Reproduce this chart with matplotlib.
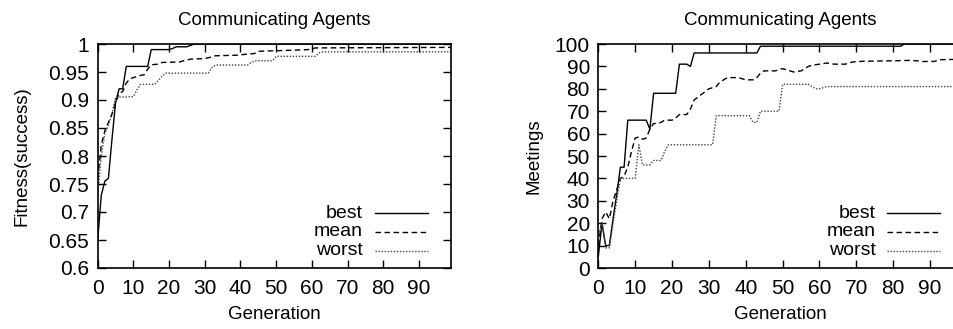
import matplotlib
matplotlib.use("Agg")
import matplotlib.pyplot as plt
from matplotlib.lines import Line2D
from matplotlib.ticker import MultipleLocator, FormatStrFormatter

plt.rcParams['font.family'] = ['Liberation Sans', 'DejaVu Sans']
plt.rcParams['font.size'] = 13.5

# Fitness per generation (vertices where the curve changes)
fit_best_gen = [0, 1, 2, 3, 4, 5, 6, 7, 8, 14, 15, 20, 21, 22, 25, 27, 99]
fit_best = [0.65, 0.73, 0.755, 0.76, 0.83, 0.895, 0.92, 0.92, 0.96, 0.96, 0.99,
            0.99, 0.992, 0.995, 0.995, 1.0, 1.0]

fit_mean_gen = [0, 1, 2, 3, 4, 5, 6, 7, 8, 9, 10, 12, 13, 14, 15, 17, 18, 23, 24,
                26, 30, 32, 33, 39, 42, 44, 45, 50, 55, 59, 61, 99]
fit_mean = [0.76, 0.82, 0.845, 0.86, 0.875, 0.895, 0.912, 0.915, 0.93, 0.938,
            0.94, 0.944, 0.945, 0.955, 0.963, 0.964, 0.967, 0.968, 0.97, 0.973,
            0.974, 0.977, 0.979, 0.98, 0.982, 0.983, 0.987, 0.988, 0.989, 0.99,
            0.993, 0.994]

fit_worst_gen = [0, 1, 2, 3, 4, 5, 10, 11, 12, 16, 17, 18, 19, 31, 32, 33, 42, 43,
                 44, 49, 50, 61, 62, 63, 99]
fit_worst = [0.73, 0.80, 0.84, 0.855, 0.875, 0.905, 0.906, 0.918, 0.928, 0.928,
             0.935, 0.942, 0.948, 0.948, 0.958, 0.9625, 0.9625, 0.967, 0.97, 0.97,
             0.978, 0.978, 0.984, 0.986, 0.986]

# Meetings per generation
meet_best_gen = [0, 1, 2, 3, 4, 5, 6, 7, 8, 13, 14, 15, 21, 22, 24, 25, 26, 43, 44,
                 82, 83, 99]
meet_best = [5, 20, 10, 10, 22, 33, 45, 45, 66, 66, 62, 78, 78, 91, 91, 90, 96, 96,
             99, 99, 100, 100]

meet_mean_gen = [0, 1, 2, 3, 4, 5, 6, 7, 8, 9, 10, 11, 12, 13, 14, 15, 16, 17, 18,
                 20, 21, 22, 24, 25, 26, 28, 30, 32, 33, 34, 35, 38, 40, 42, 43, 44,
                 45, 48, 50, 52, 53, 55, 57, 58, 60, 62, 64, 67, 69, 72, 80, 85, 88,
                 91, 93, 99]
meet_mean = [10, 22, 25, 22, 30, 35, 40, 41, 45, 52, 58, 58.5, 57.5, 58, 62, 64.5,
             64.5, 65, 66, 66, 67, 68.5, 68.5, 71, 75, 77.5, 80, 81, 83, 84, 85, 85,
             84, 84, 85, 87, 88, 88, 89, 88, 87.5, 88, 90, 90.5, 91, 91.5, 91, 91,
             92, 92.3, 92.5, 92.7, 92.2, 92.2, 93, 93.2]

meet_worst_gen = [0, 1, 2, 3, 4, 5, 6, 10, 11, 12, 14, 15, 17, 18, 19, 31, 32, 41,
                  42, 43, 44, 49, 50, 57, 58, 59, 60, 61, 62, 99]
meet_worst = [15, 20, 9, 9, 20, 30, 40, 40, 55, 46, 46, 48, 48, 52, 55, 55, 68, 68,
              65, 65, 70, 70, 82, 82, 81, 80, 80, 80.5, 81, 81]

series_labels = ['best', 'mean', 'worst']
title_text = 'Communicating Agents'

W, H = 954, 329
fig = plt.figure(figsize=(W / 100, H / 100), dpi=100)

styles = [dict(color='black', lw=1.0, ls='-'),
          dict(color='black', lw=1.0, ls=(0, (4, 2.5))),
          dict(color='#444444', lw=1.0, ls=(0, (1, 1.2)))]


def px_axes(x0, x1, y0, y1):
    return fig.add_axes([x0 / W, 1 - y1 / H, (x1 - x0) / W, (y1 - y0) / H])


def style_axes(ax, ylabel, ylabelpad):
    for s in ax.spines.values():
        s.set_linewidth(1.2)
    ax.tick_params(direction='in', top=True, right=True, length=6, width=1.0,
                   labelsize=15)
    ax.tick_params(axis='x', pad=8)
    ax.tick_params(axis='y', pad=6)
    ax.set_xlim(0, 99)
    ax.xaxis.set_major_locator(MultipleLocator(10))
    ax.set_title(title_text, fontsize=13.5, pad=14)
    ax.set_xlabel('Generation', fontsize=13.5, labelpad=6)
    ax.set_ylabel(ylabel, fontsize=13.5, labelpad=ylabelpad)


def draw_key(ax, text_x, line_x0, line_x1):
    rows = [0.2455, 0.161, 0.076]
    for lab, st, y in zip(series_labels, styles, rows):
        ax.text(text_x, y, lab, transform=ax.transAxes, ha='right', va='center',
                fontsize=14)
        ax.add_line(Line2D([line_x0, line_x1], [y, y], transform=ax.transAxes,
                           **st))


# Left: fitness
ax1 = px_axes(97.7, 451, 44, 268)
ax1.plot(fit_best_gen, fit_best, **styles[0])
ax1.plot(fit_mean_gen, fit_mean, **styles[1])
ax1.plot(fit_worst_gen, fit_worst, **styles[2])
ax1.set_ylim(0.6, 1.0)
ax1.yaxis.set_major_locator(MultipleLocator(0.05))
ax1.yaxis.set_major_formatter(FormatStrFormatter('%g'))
style_axes(ax1, 'Fitness(success)', 13)
draw_key(ax1, 0.751, 0.786, 0.936)

# Right: meetings
ax2 = px_axes(598.3, 963.2, 44, 268)
ax2.plot(meet_best_gen, meet_best, **styles[0])
ax2.plot(meet_mean_gen, meet_mean, **styles[1])
ax2.plot(meet_worst_gen, meet_worst, **styles[2])
ax2.set_ylim(0, 100)
ax2.yaxis.set_major_locator(MultipleLocator(10))
style_axes(ax2, 'Meetings', 9)
draw_key(ax2, 0.760, 0.791, 0.936)

fig.savefig('out.png', dpi=100)
